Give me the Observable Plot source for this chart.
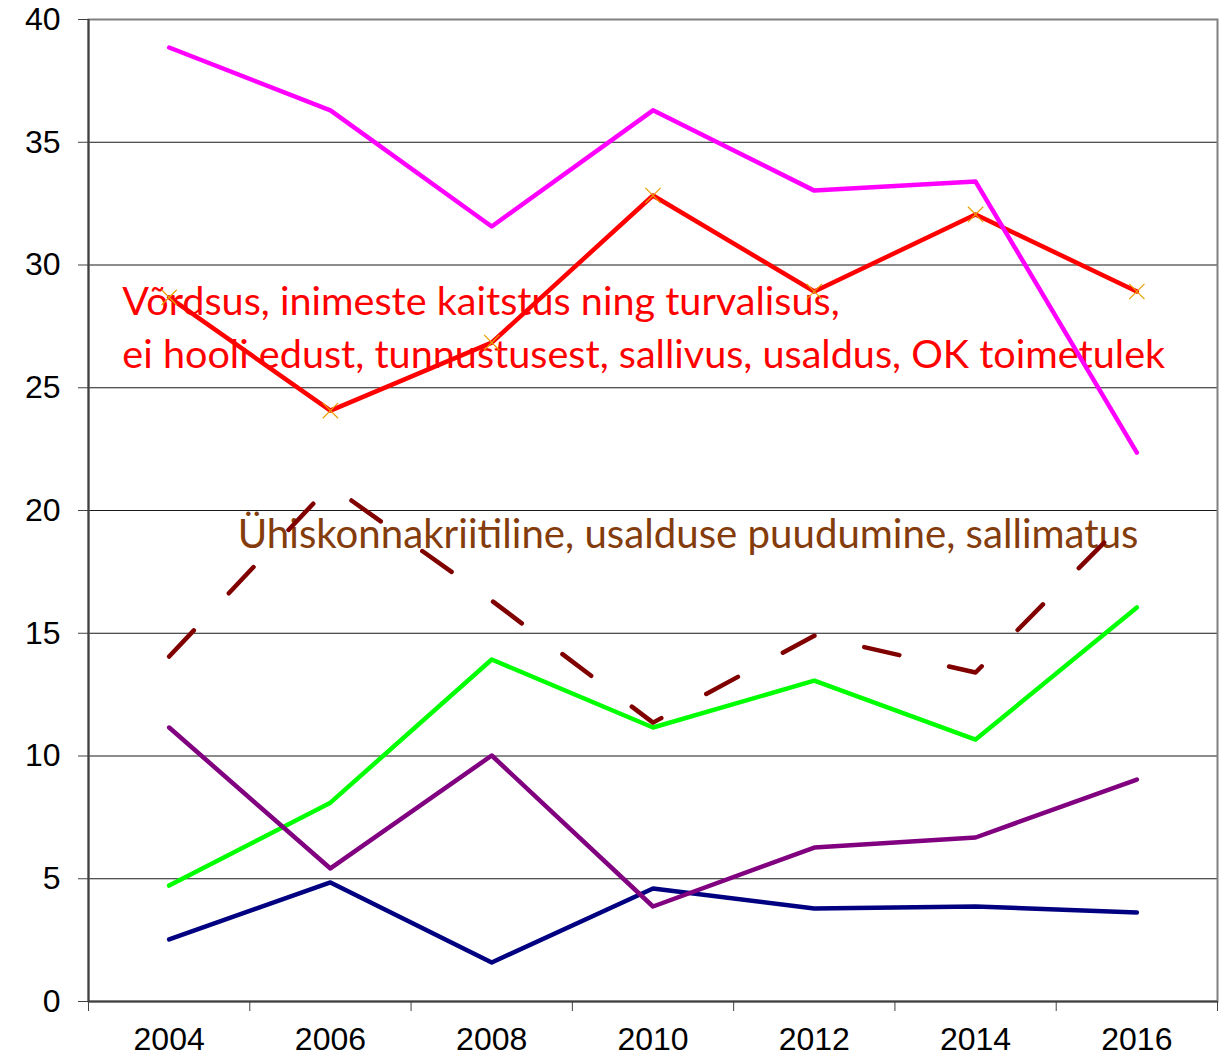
<!DOCTYPE html>
<html>
<head>
<meta charset="utf-8">
<script src="https://cdn.jsdelivr.net/npm/d3@7"></script>
<script src="https://cdn.jsdelivr.net/npm/@observablehq/plot@0.6"></script>
<style>
  html, body { margin: 0; padding: 0; background: #fff; }
</style>
</head>
<body>
<div id="chart"></div>
<script>
// ---- data ----
const years = [2004, 2006, 2008, 2010, 2012, 2014, 2016];
const xBoundaries = [2003, 2005, 2007, 2009, 2011, 2013, 2015, 2017];
const yTicks = [0, 5, 10, 15, 20, 25, 30, 35, 40];

const magentaValues = [38.86, 36.30, 31.57, 36.30, 33.03, 33.40, 22.36];
const redValues     = [28.68, 24.07, 26.84, 32.83, 28.92, 32.06, 28.92];
const dashedValues  = [14.05, 21.02, 16.33, 11.36, 14.90, 13.40, 20.04];
const greenValues   = [4.72, 8.10, 13.93, 11.16, 13.07, 10.67, 16.05];
const purpleValues  = [11.16, 5.42, 10.02, 3.87, 6.27, 6.68, 9.04];
const navyValues    = [2.53, 4.85, 1.59, 4.60, 3.79, 3.87, 3.63];

const redLabels = [
  "Võrdsus, inimeste kaitstus ning turvalisus,",
  "ei hooli edust, tunnustusest, sallivus, usaldus, OK toimetulek"
];
const brownLabel = "Ühiskonnakriitiline, usalduse puudumine, sallimatus";

// annotation anchors (data units)
const redLabelX = 2003.42;
const redLabelY = [28.47, 26.31];
const brownLabelX = 2004.85;
const brownLabelY = 18.98;

const toRows = (vals) => years.map((year, i) => ({year, value: vals[i]}));

const lineOpts = {x: "year", y: "value", strokeWidth: 4.5, strokeLinecap: "round", strokeLinejoin: "round"};

const chart = Plot.plot({
  width: 1221,
  height: 1060,
  marginLeft: 88,
  marginRight: 4,
  marginTop: 19,
  marginBottom: 59,
  x: {type: "linear", domain: [2003, 2017]},
  y: {domain: [0, 40]},
  style: {fontFamily: "'Liberation Sans', Arial, sans-serif", fontSize: "32px", background: "#fff", color: "#000"},
  marks: [
    Plot.gridY(yTicks.slice(1, -1), {stroke: "#000", strokeOpacity: 0.9, strokeWidth: 1}),
    Plot.frame({stroke: "#808080", strokeWidth: 2}),
    Plot.ruleX([2003], {stroke: "#404040", strokeWidth: 2}),
    Plot.ruleY([0], {stroke: "#404040", strokeWidth: 2}),
    Plot.axisY({ticks: yTicks, tickSize: 10, tickPadding: 18, label: null, stroke: "#404040", fill: "#000", fontSize: 32}),
    Plot.axisX({ticks: xBoundaries, tickSize: 10, tickFormat: () => "", label: null, stroke: "#404040"}),
    Plot.axisX({ticks: years, tickSize: 0, tickPadding: 26, tickFormat: d => String(d), label: null, fill: "#000", fontSize: 32}),
    // annotations
    Plot.text(redLabels, {x: () => redLabelX, y: (d, i) => redLabelY[i], text: d => d, textAnchor: "start",
      fill: "#ff0000", fontSize: 39.6, fontFamily: "Lato, 'Open Sans', sans-serif"}),
    Plot.text([brownLabel], {x: () => brownLabelX, y: () => brownLabelY, text: d => d, textAnchor: "start",
      fill: "#843c0c", fontSize: 40.2, fontFamily: "Lato, 'Open Sans', sans-serif"}),
    // series
    Plot.line(toRows(navyValues), {...lineOpts, stroke: "#000080"}),
    Plot.line(toRows(greenValues), {...lineOpts, stroke: "#00ff00"}),
    Plot.line(toRows(dashedValues), {...lineOpts, stroke: "#800000", strokeDasharray: "36,51"}),
    Plot.line(toRows(purpleValues), {...lineOpts, stroke: "#800080"}),
    Plot.line(toRows(redValues), {...lineOpts, stroke: "#ff0000"}),
    Plot.dot(toRows(redValues), {x: "year", y: "value", symbol: "times", r: 7, stroke: "#e8a000", strokeWidth: 1.2}),
    Plot.line(toRows(magentaValues), {...lineOpts, stroke: "#ff00ff"})
  ]
});

document.getElementById("chart").appendChild(chart);
</script>
</body>
</html>
